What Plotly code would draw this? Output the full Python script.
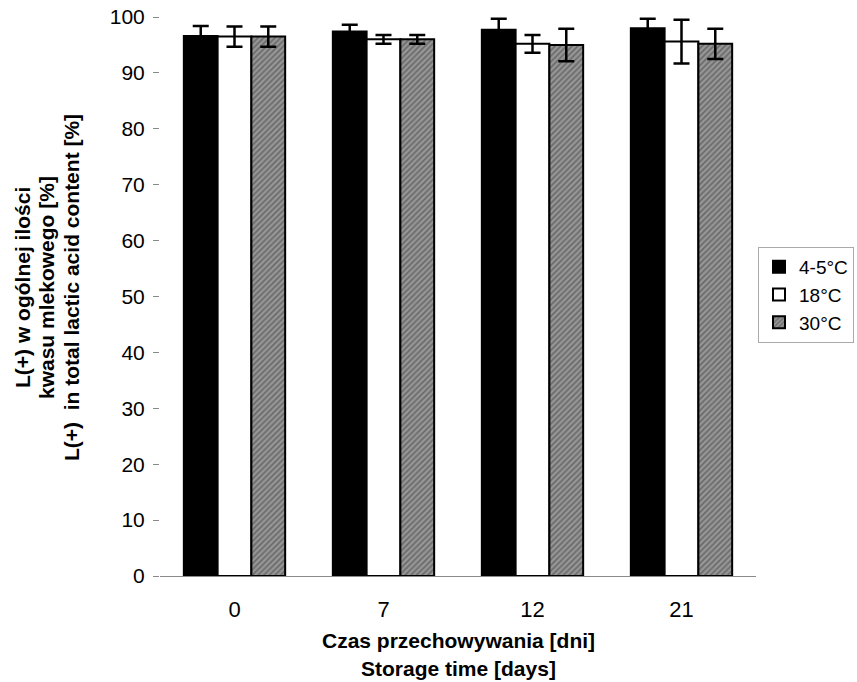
import plotly.graph_objects as go

days = ["0", "7", "12", "21"]
series_names = ["4-5°C", "18°C", "30°C"]
values_4_5 = [96.6, 97.4, 97.7, 98.0]
values_18 = [96.5, 96.0, 95.2, 95.6]
values_30 = [96.5, 96.0, 95.0, 95.2]
err_4_5 = [1.8, 1.2, 2.0, 1.7]
err_18 = [1.8, 0.8, 1.6, 3.9]
err_30 = [1.8, 0.8, 2.9, 2.7]
y_ticks = [0, 10, 20, 30, 40, 50, 60, 70, 80, 90, 100]
y_title_lines = ["L(+) w ogólnej ilości", "kwasu mlekowego [%]", "L(+)  in total lactic acid content [%]"]
x_title_lines = ["Czas przechowywania [dni]", "Storage time [days]"]

font = "Liberation Sans, Arial, sans-serif"

fig = go.Figure()

def err(vals):
    return dict(type="data", array=vals, visible=True, color="black", thickness=2.5, width=8)

fig.add_trace(go.Bar(
    x=days, y=values_4_5, name=series_names[0], error_y=err(err_4_5),
    marker=dict(color="black", line=dict(color="black", width=2)),
))
fig.add_trace(go.Bar(
    x=days, y=values_18, name=series_names[1], error_y=err(err_18),
    marker=dict(color="white", line=dict(color="black", width=2)),
))
fig.add_trace(go.Bar(
    x=days, y=values_30, name=series_names[2], error_y=err(err_30),
    marker=dict(color="#8c8c8c", line=dict(color="black", width=2),
                pattern=dict(shape="/", fgcolor="#3c3c3c", bgcolor="#969696", size=4, solidity=0.4)),
))

W, H = 857, 682
L, T = 160, 17
B = H - 576
R = W - 756
pw, ph = W - L - R, H - T - B

def px_x(px):
    return (px - L) / pw

def px_y(py):
    return (H - B - py) / ph

annotations = []
for line, px in zip(y_title_lines, [22, 46, 71]):
    annotations.append(dict(
        text="<b>" + line + "</b>", xref="paper", yref="paper",
        x=px_x(px), y=px_y(288), xanchor="center", yanchor="middle",
        textangle=-90, showarrow=False, font=dict(family=font, size=21, color="black"),
    ))
for line, py in zip(x_title_lines, [640, 668]):
    annotations.append(dict(
        text="<b>" + line + "</b>", xref="paper", yref="paper",
        x=0.5, y=px_y(py), xanchor="center", yanchor="middle",
        showarrow=False, font=dict(family=font, size=21, color="black"),
    ))

fig.update_layout(
    width=W, height=H,
    plot_bgcolor="white", paper_bgcolor="white",
    barmode="group", bargap=0.32, bargroupgap=0,
    margin=dict(l=L, r=R, t=T, b=B, autoexpand=False),
    font=dict(family=font, size=21, color="black"),
    showlegend=True,
    annotations=annotations,
    legend=dict(
        x=px_x(758), xanchor="left", y=px_y(295), yanchor="middle",
        font=dict(family=font, size=19, color="black"),
        bordercolor="#aaaaaa", borderwidth=1, bgcolor="white",
        itemwidth=30, tracegroupgap=0,
    ),
    xaxis=dict(
        automargin=False,
        showline=True, linecolor="#8a8a8a", linewidth=1,
        ticks="", showgrid=False, ticklabelstandoff=14,
        tickfont=dict(family=font, size=22),
    ),
    yaxis=dict(
        automargin=False,
        range=[0, 100], tickvals=y_ticks, showgrid=False, zeroline=False,
        showline=False, ticks="outside", ticklen=6, tickcolor="#888888",
        ticklabelstandoff=4,
        tickfont=dict(family=font, size=21),
    ),
)

fig.write_html("out.html", config={"displayModeBar": False},
               post_script="document.body.style.margin='0';")
